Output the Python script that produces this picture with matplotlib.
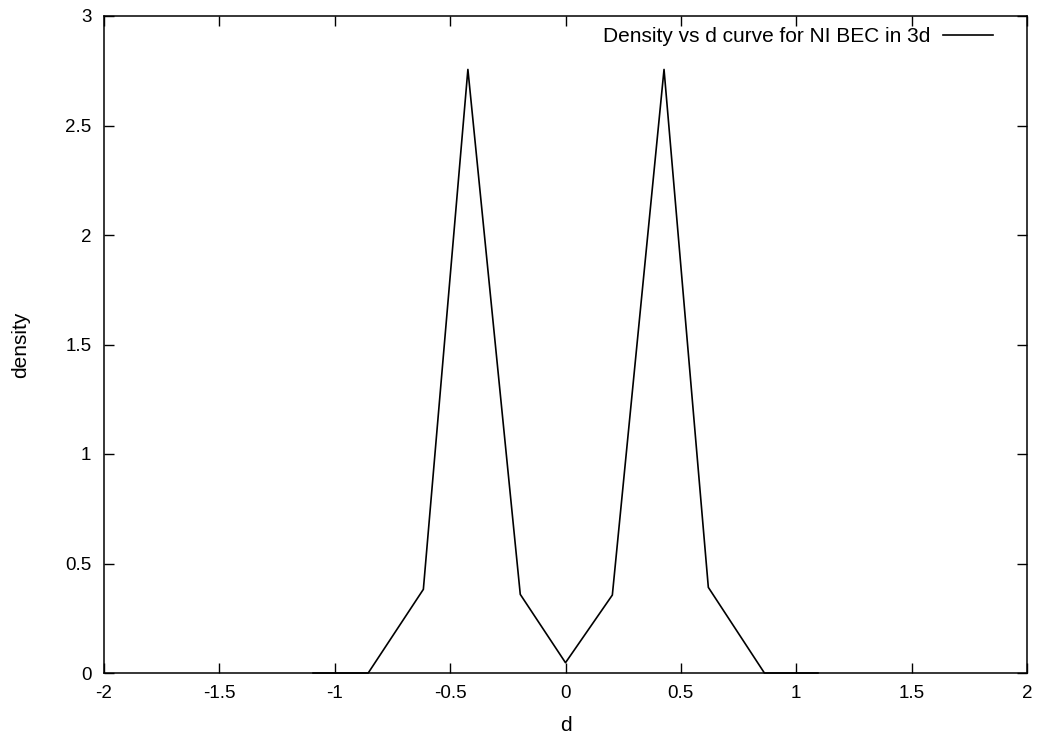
import matplotlib
matplotlib.use("Agg")
import matplotlib.pyplot as plt

# density profile (gnuplot output)
d_vals = [-1.094, -0.855, -0.616, -0.423, -0.196, 0.0, 0.203, 0.427, 0.619, 0.862, 1.094]
density = [0.0, 0.0, 0.382, 2.756, 0.359, 0.047, 0.356, 2.756, 0.391, 0.0, 0.0]

x_ticks = [-2, -1.5, -1, -0.5, 0, 0.5, 1, 1.5, 2]
x_labels = ["-2", "-1.5", "-1", "-0.5", "0", "0.5", "1", "1.5", "2"]
y_ticks = [0, 0.5, 1, 1.5, 2, 2.5, 3]
y_labels = ["0", "0.5", "1", "1.5", "2", "2.5", "3"]

plt.rcParams['font.family'] = ['Liberation Sans', 'DejaVu Sans']

fig = plt.figure(figsize=(10.38, 7.38), dpi=100)
# axes box: x 104..1027 px, y 16..673 px
ax = fig.add_axes([104 / 1038, 65 / 738, 923 / 1038, 657 / 738])

ax.plot(d_vals, density, color="black", linewidth=1.2,
        label="Density vs d curve for NI BEC in 3d", clip_on=False, zorder=3)

ax.set_xlim(-2, 2)
ax.set_ylim(0, 3)
ax.set_xticks(x_ticks)
ax.set_xticklabels(x_labels)
ax.set_yticks(y_ticks)
ax.set_yticklabels(y_labels)

ax.tick_params(direction="in", top=True, right=True, length=7.5, width=1,
               labelsize=13.5, pad=9)
for s in ax.spines.values():
    s.set_linewidth(1.1)

ax.set_xlabel("d", fontsize=15)
ax.set_ylabel("density", fontsize=15)
ax.xaxis.set_label_coords(0.5, -0.066)
ax.yaxis.set_label_coords(-0.080, 0.5)

ax.legend(loc="center right", frameon=False, markerfirst=False, fontsize=15,
          handlelength=2.4, handletextpad=0.6, borderpad=0, borderaxespad=0,
          bbox_to_anchor=(993 / 1038, 1 - 37 / 738),
          bbox_transform=fig.transFigure)

fig.savefig("out.png", dpi=100)
